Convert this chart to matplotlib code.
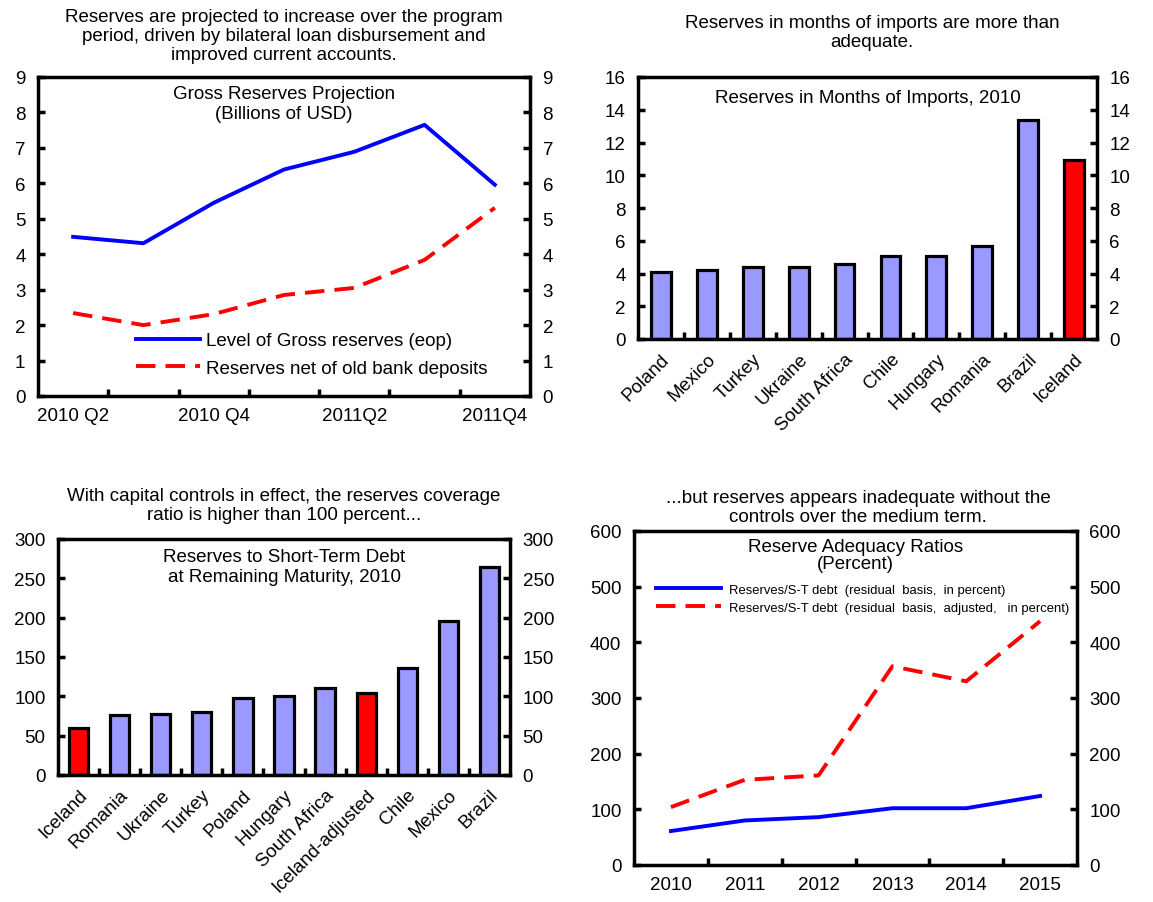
import matplotlib
matplotlib.use("Agg")
import matplotlib.pyplot as plt
from matplotlib.ticker import FixedLocator, NullFormatter

plt.rcParams['font.family'] = ['Liberation Sans', 'DejaVu Sans']

# Gross reserves projection (billions of USD)
quarters = ["2010 Q2", "2010 Q3", "2010 Q4", "2011Q1", "2011Q2", "2011Q3", "2011Q4"]
gross_reserves = [4.49, 4.31, 5.45, 6.39, 6.89, 7.65, 5.96]
net_reserves = [2.34, 2.00, 2.31, 2.85, 3.05, 3.84, 5.31]

# Reserves in months of imports, 2010
imp_countries = ["Poland", "Mexico", "Turkey", "Ukraine", "South Africa", "Chile",
                 "Hungary", "Romania", "Brazil", "Iceland"]
imp_months = [4.1, 4.2, 4.4, 4.4, 4.6, 5.05, 5.05, 5.7, 13.4, 10.95]

# Reserves to short-term debt at remaining maturity, 2010
std_countries = ["Iceland", "Romania", "Ukraine", "Turkey", "Poland", "Hungary",
                 "South Africa", "Iceland-adjusted", "Chile", "Mexico", "Brazil"]
std_ratio = [60, 76, 78, 80, 98, 100, 111, 104, 136, 196, 265]

# Reserve adequacy ratios (percent)
years = ["2010", "2011", "2012", "2013", "2014", "2015"]
res_std = [61, 80, 86, 102, 102, 124]
res_std_adj = [104, 153, 161, 357, 330, 438]

BLUE = "#0000FF"
RED = "#FF0000"
PERI = "#9999FF"

FS_TICK = 13.5
FS_TITLE = 13.5
FS_INNER = 13.5

fig = plt.figure(figsize=(11.53, 9.03), dpi=100)
W, H = 1153, 903


def add_axes_px(x0, y0, x1, y1):
    return fig.add_axes([x0 / W, 1 - y1 / H, (x1 - x0) / W, (y1 - y0) / H])


def style_axes(ax, ymax, step, n):
    for s in ax.spines.values():
        s.set_linewidth(2.5)
    ax.set_ylim(0, ymax)
    ax.set_xlim(-0.5, n - 0.5)
    ax.set_yticks(list(range(0, ymax + 1, step)))
    ax.tick_params(axis='y', direction='in', length=5, width=2.5, left=True, right=True,
                   labelleft=True, labelright=True, labelsize=FS_TICK, pad=9)
    ax.xaxis.set_minor_locator(FixedLocator([i + 0.5 for i in range(n - 1)]))
    ax.xaxis.set_minor_formatter(NullFormatter())
    ax.tick_params(axis='x', which='minor', direction='in', length=5, width=2.5)
    ax.tick_params(axis='x', which='major', length=0, labelsize=FS_TICK, pad=8)


# ---- Panel 1: gross reserves projection
ax1 = add_axes_px(38, 78, 530, 397)
x1 = list(range(len(quarters)))
ax1.plot(x1, gross_reserves, color=BLUE, lw=2.8, label="Level of Gross reserves (eop)")
ax1.plot(x1, net_reserves, color=RED, lw=2.8, dashes=(5, 2.6),
         label="Reserves net of old bank deposits")
style_axes(ax1, 9, 1, len(quarters))
ax1.set_xticks(x1[::2])
ax1.set_xticklabels(quarters[::2])
ax1.text(0.5, 0.975, "Gross Reserves Projection\n(Billions of USD)", transform=ax1.transAxes,
         ha='center', va='top', fontsize=FS_INNER, linespacing=1.2)
ax1.legend(loc='lower left', bbox_to_anchor=(0.2, 0.06), frameon=False, fontsize=13.5,
           handlelength=3.4, handletextpad=0.3, labelspacing=0.55, borderpad=0,
           borderaxespad=0)
fig.text(284 / W, 1 - 9 / H,
         "Reserves are projected to increase over the program\n"
         "period, driven by bilateral loan disbursement and\n"
         "improved current accounts.",
         ha='center', va='top', fontsize=FS_TITLE, linespacing=1.15)

# ---- Panel 2: months of imports
ax2 = add_axes_px(638, 78, 1097, 340)
x2 = list(range(len(imp_countries)))
cols2 = [RED if c == "Iceland" else PERI for c in imp_countries]
ax2.bar(x2, imp_months, width=0.43, color=cols2, edgecolor='black', linewidth=2.3)
style_axes(ax2, 16, 2, len(imp_countries))
ax2.set_xticks(x2)
ax2.set_xticklabels(imp_countries, rotation=45, ha='right', rotation_mode='anchor')
ax2.text(0.5, 0.955, "Reserves in Months of Imports, 2010", transform=ax2.transAxes,
         ha='center', va='top', fontsize=FS_INNER)
fig.text(872 / W, 1 - 15 / H,
         "Reserves in months of imports are more than\nadequate.",
         ha='center', va='top', fontsize=FS_TITLE, linespacing=1.15)

# ---- Panel 3: reserves to short-term debt
ax3 = add_axes_px(58, 540, 510, 776)
x3 = list(range(len(std_countries)))
cols3 = [RED if c.startswith("Iceland") else PERI for c in std_countries]
ax3.bar(x3, std_ratio, width=0.47, color=cols3, edgecolor='black', linewidth=2.3)
style_axes(ax3, 300, 50, len(std_countries))
ax3.set_xticks(x3)
ax3.set_xticklabels(std_countries, rotation=45, ha='right', rotation_mode='anchor')
ax3.text(0.5, 0.96, "Reserves to Short-Term Debt\nat Remaining Maturity, 2010",
         transform=ax3.transAxes, ha='center', va='top', fontsize=FS_INNER, linespacing=1.2)
fig.text(284 / W, 1 - 488 / H,
         "With capital controls in effect, the reserves coverage\n"
         "ratio is higher than 100 percent...",
         ha='center', va='top', fontsize=FS_TITLE, linespacing=1.15)

# ---- Panel 4: reserve adequacy ratios
ax4 = add_axes_px(634, 532, 1077, 866)
x4 = list(range(len(years)))
ax4.plot(x4, res_std, color=BLUE, lw=2.8,
         label="Reserves/S-T debt  (residual  basis,  in percent)")
ax4.plot(x4, res_std_adj, color=RED, lw=2.8, dashes=(5, 2.6),
         label="Reserves/S-T debt  (residual  basis,  adjusted,   in percent)")
style_axes(ax4, 600, 100, len(years))
ax4.set_xticks(x4)
ax4.set_xticklabels(years)
ax4.text(0.5, 0.98, "Reserve Adequacy Ratios\n(Percent)", transform=ax4.transAxes,
         ha='center', va='top', fontsize=FS_INNER, linespacing=1.05)
ax4.legend(loc='upper left', bbox_to_anchor=(0.05, 0.843), frameon=False, fontsize=9.4,
           handlelength=5.0, handletextpad=0.6, labelspacing=0.45, borderpad=0,
           borderaxespad=0)
fig.text(858 / W, 1 - 490 / H,
         "...but reserves appears inadequate without the\ncontrols over the medium term.",
         ha='center', va='top', fontsize=FS_TITLE, linespacing=1.15)

fig.savefig("out.png", dpi=100)
